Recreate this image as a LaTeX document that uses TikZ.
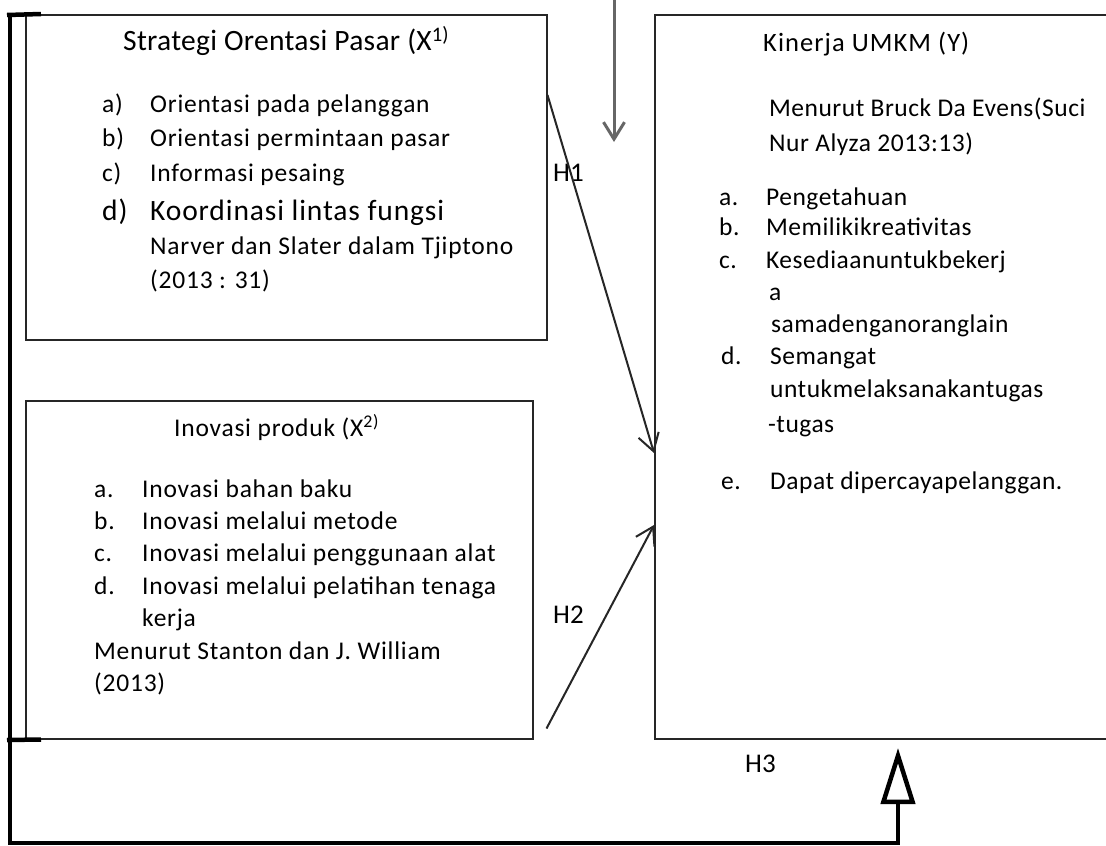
\documentclass[tikz,border=0pt]{standalone}
\usepackage{fontspec}
\setmainfont{Carlito}
\newfontfamily\lsf[LetterSpace=3.0]{Carlito}
\newfontfamily\tsf[LetterSpace=1.0]{Carlito}
\newfontfamily\ksf[LetterSpace=3.0]{Carlito}
\newfontfamily\ysf[LetterSpace=2.0]{Carlito}
\newfontfamily\ytsf[LetterSpace=4.0]{Carlito}
\usetikzlibrary{arrows.meta}
\begin{document}
\begin{tikzpicture}[x=1pt,y=-1pt,
  box/.style={draw=black!85, line width=1.5pt, anchor=north west, inner sep=0pt},
  lst/.style={anchor=base west, inner sep=0pt, text=black, font=\lsf\fontsize{25.5}{25.5}\selectfont},
  ylst/.style={anchor=base west, inner sep=0pt, text=black, font=\ysf\fontsize{25.5}{25.5}\selectfont},
  ttl/.style={anchor=base west, inner sep=0pt, text=black, font=\tsf\fontsize{29.5}{29.5}\selectfont},
  bigl/.style={anchor=base west, inner sep=0pt, text=black, font=\ksf\fontsize{29.5}{29.5}\selectfont},
  hlab/.style={anchor=base west, inner sep=0pt, text=black, font=\fontsize{27}{27}\selectfont},
  harr/.style={draw=black!85, line width=2pt, -{Straight Barb[length=17pt,width=21pt]}},
  toparr/.style={draw=black!60, line width=3pt, -{Straight Barb[length=17pt,width=21pt]}},
  brk/.style={draw=black, line width=4.5pt},
  bigarr/.style={draw=black, line width=4.5pt, line join=miter, -{Triangle[open,length=56pt,width=34pt]}}
]
\useasboundingbox[fill=white] (0,0) rectangle (1106,846);

% boxes
\node[box, minimum width=521pt, minimum height=325pt] (x1) at (25,14) {};
\node[box, minimum width=507pt, minimum height=338pt] (x2) at (25,400) {};
\node[box, minimum width=480pt, minimum height=724pt] (y) at (654,14) {};

% box 1 text
\node[ttl] (t1) at (123,50.5) {Strategi Orentasi Pasar (X\textsuperscript{1)}};
\node[lst] (a1) at (102,112) {\makebox[48pt][l]{a)}Orientasi pada pelanggan};
\node[lst] (b1) at (102,146) {\makebox[48pt][l]{b)}Orientasi permintaan pasar};
\node[lst] (c1) at (102,181) {\makebox[48pt][l]{c)}Informasi pesaing};
\node[bigl] (d1) at (102,220) {\makebox[48pt][l]{d)}Koordinasi lintas fungsi};
\node[lst] (n1) at (150,254.5) {Narver dan Slater dalam Tjiptono};
\node[lst] (n2) at (150,288) {(2013 : 31)};

% box 2 text
\node[lst] (t2) at (174,436.6) {Inovasi produk (X\textsuperscript{2)}};
\node[lst] (a2) at (94,497) {\makebox[48pt][l]{a.}Inovasi bahan baku};
\node[lst] (b2) at (94,529.4) {\makebox[48pt][l]{b.}Inovasi melalui metode};
\node[lst] (c2) at (94,561.8) {\makebox[48pt][l]{c.}Inovasi melalui penggunaan alat};
\node[lst] (d2) at (94,594.2) {\makebox[48pt][l]{d.}Inovasi melalui pelatihan tenaga};
\node[lst] (k2) at (142,626.6) {kerja};
\node[lst] (m2) at (94,659) {Menurut Stanton dan J. William};
\node[lst] (m3) at (94,691.4) {(2013)};

% box Y text
\node[ylst, font=\ytsf\fontsize{26.5}{26.5}\selectfont] (ty) at (763,51) {Kinerja UMKM (Y)};
\node[ylst] (y1) at (769,116) {Menurut Bruck Da Evens(Suci};
\node[ylst] (y2) at (769,151) {Nur Alyza 2013:13)};
\node[ylst] (ya) at (719,205) {\makebox[47pt][l]{a.}Pengetahuan};
\node[ylst] (yb) at (719,235) {\makebox[47pt][l]{b.}Memilikikreativitas};
\node[ylst] (yc) at (719,268) {\makebox[47pt][l]{c.}Kesediaanuntukbekerj};
\node[ylst] (yc2) at (769,300) {a};
\node[ylst] (yc3) at (771,332) {samadenganoranglain};
\node[ylst] (yd) at (721,364) {\makebox[49pt][l]{d.}Semangat};
\node[ylst] (yd2) at (770,397) {untukmelaksanakantugas};
\node[ylst] (yd3) at (768,432) {-tugas};
\node[ylst] (ye) at (721,489) {\makebox[49pt][l]{e.}Dapat dipercayapelanggan.};

% hypothesis labels
\node[hlab] (h1) at (553,181) {H1};
\node[hlab] (h2) at (553,623) {H2};
\node[hlab] (h3) at (745,772) {H3};

% coordinates
\coordinate (ts) at (614,-3);
\coordinate (te) at (614,142);
\coordinate (brtop) at (10,13);
\coordinate (brbot) at (10,843);
\coordinate (corner) at (898,843);
\coordinate (h3tip) at (898,748);

% connectors
\draw[harr] ([yshift=-81pt]x1.north east) -- ([yshift=-439pt]y.north west);
\draw[harr] ([xshift=13pt,yshift=11pt]x2.south east) -- ([yshift=-511pt]y.north west);
\draw[toparr] (ts) -- (te);

% bracket and feedback arrow
\draw[brk] (7,15) -- (x1.north west -| 41,0);
\draw[brk] (7,740) -- (x2.south west -| 41,0);
\draw[bigarr] (brtop) -- (brbot) -- (corner) -- (h3tip);
\end{tikzpicture}
\end{document}
